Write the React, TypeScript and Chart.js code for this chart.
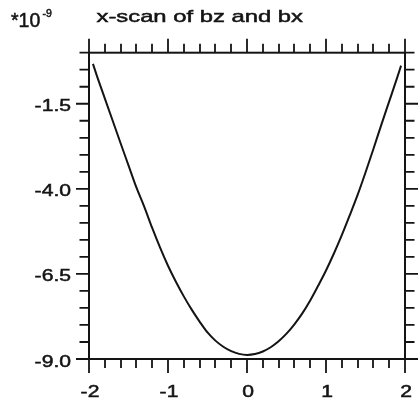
import React, { useEffect, useRef } from "react";
import { Chart, registerables } from "chart.js";

Chart.register(...registerables);

// x-scan positions and field values (units of 1e-9)
const xScan = [
  -1.95, -1.9, -1.8, -1.7, -1.6, -1.5, -1.4, -1.3, -1.2, -1.1, -1.0,
  -0.9, -0.8, -0.7, -0.6, -0.5, -0.4, -0.3, -0.2, -0.1, 0.0,
  0.1, 0.2, 0.3, 0.4, 0.5, 0.6, 0.7, 0.8, 0.9, 1.0,
  1.1, 1.2, 1.3, 1.4, 1.5, 1.6, 1.7, 1.8, 1.9, 1.95,
];
const bzValues = [
  -0.33, -0.68, -1.34, -2.0, -2.66, -3.31, -3.96, -4.53, -5.15, -5.73, -6.26,
  -6.73, -7.16, -7.55, -7.9, -8.22, -8.46, -8.64, -8.77, -8.85, -8.88,
  -8.855, -8.78, -8.655, -8.48, -8.255, -7.98, -7.66, -7.28, -6.85, -6.4,
  -5.9, -5.36, -4.78, -4.18, -3.52, -2.83, -2.12, -1.43, -0.74, -0.38,
];

const xTickLabels = ["-2", "-1", "0", "1", "2"];
const xMajorTicks = [-2, -1, 0, 1, 2];
const xMinorStep = 0.2;
const yTickLabels = ["-1.5", "-4.0", "-6.5", "-9.0"];
const yMajorTicks = [-1.5, -4.0, -6.5, -9.0];
const yMinorStep = 0.5;

const titleText = "x-scan of bz and bx";
const scaleText = "*10";
const scaleExponent = "-9";

const X_MIN = -2;
const X_MAX = 2;
const Y_MIN = -9;
const Y_MAX = 0;

const INK = "#141414";
const FONT = '"Liberation Sans", Arial, Helvetica, sans-serif';

function stretchedText(
  ctx: CanvasRenderingContext2D,
  text: string,
  x: number,
  y: number,
  size: number,
  align: CanvasTextAlign,
  sx: number
) {
  ctx.save();
  ctx.translate(x, y);
  ctx.scale(sx, 1);
  ctx.font = `${size}px ${FONT}`;
  ctx.textAlign = align;
  ctx.textBaseline = "alphabetic";
  ctx.fillStyle = INK;
  ctx.strokeStyle = INK;
  ctx.lineWidth = 0.5;
  ctx.fillText(text, 0, 0);
  ctx.strokeText(text, 0, 0);
  ctx.restore();
}

// Frame with outward ticks on all four sides, labels and header text
const framePlugin = {
  id: "frame",
  afterDatasetsDraw(chart: any) {
    const { ctx, chartArea } = chart;
    const xs = chart.scales.x;
    const ys = chart.scales.y;
    const { left, right, top, bottom } = chartArea;
    const near = (a: number, b: number) => Math.abs(a - b) < 1e-6;

    ctx.save();
    ctx.strokeStyle = INK;
    ctx.lineCap = "butt";

    // box
    ctx.lineWidth = 2;
    ctx.strokeRect(left, top, right - left, bottom - top);

    // x ticks (top and bottom)
    ctx.lineWidth = 1.8;
    const nX = Math.round((X_MAX - X_MIN) / xMinorStep);
    for (let i = 0; i <= nX; i++) {
      const v = X_MIN + i * xMinorStep;
      const px = Math.round(xs.getPixelForValue(v));
      const major = xMajorTicks.some((m) => near(m, v));
      const len = major ? 14 : 9;
      ctx.beginPath();
      ctx.moveTo(px, top);
      ctx.lineTo(px, top - len);
      ctx.moveTo(px, bottom);
      ctx.lineTo(px, bottom + len);
      ctx.stroke();
    }

    // y ticks (left and right)
    const nY = Math.round((Y_MAX - Y_MIN) / yMinorStep);
    for (let i = 0; i <= nY; i++) {
      const v = Y_MIN + i * yMinorStep;
      const py = ys.getPixelForValue(v);
      const major = yMajorTicks.some((m) => near(m, v));
      const len = major ? 13 : 9.5;
      ctx.beginPath();
      ctx.moveTo(left, py);
      ctx.lineTo(left - len, py);
      ctx.moveTo(right, py);
      ctx.lineTo(right + len, py);
      ctx.stroke();
    }
    ctx.restore();

    // tick labels
    xMajorTicks.forEach((v, i) => {
      const px = xs.getPixelForValue(v);
      stretchedText(ctx, xTickLabels[i], px + 1, bottom + 38, 16.5, "center", 1.28);
    });
    yMajorTicks.forEach((v, i) => {
      const py = ys.getPixelForValue(v);
      stretchedText(ctx, yTickLabels[i], left - 18, py + 7.5, 16.5, "right", 1.28);
    });

    // header
    stretchedText(ctx, titleText, 96.5, 22, 17, "left", 1.4);
    stretchedText(ctx, scaleText, 11, 27, 19.5, "left", 1.0);
    stretchedText(ctx, scaleExponent, 42.5, 16.5, 10.5, "left", 1.0);
  },
};

export default function App() {
  const canvasRef = useRef<HTMLCanvasElement | null>(null);

  useEffect(() => {
    const canvas = canvasRef.current;
    if (!canvas) return;
    const chart = new Chart(canvas, {
      type: "line",
      data: {
        datasets: [
          {
            label: "bz",
            data: xScan.map((x, i) => ({ x, y: bzValues[i] })),
            borderColor: INK,
            borderWidth: 2,
            pointRadius: 0,
            cubicInterpolationMode: "monotone",
            fill: false,
          },
        ],
      },
      options: {
        animation: false,
        responsive: false,
        maintainAspectRatio: false,
        events: [],
        layout: {
          padding: { left: 89, right: 14, top: 52.7, bottom: 44 },
        },
        plugins: {
          legend: { display: false },
          tooltip: { enabled: false },
          title: { display: false },
        },
        scales: {
          x: {
            type: "linear",
            min: X_MIN,
            max: X_MAX,
            display: false,
          },
          y: {
            type: "linear",
            min: Y_MIN,
            max: Y_MAX,
            display: false,
          },
        },
      },
      plugins: [framePlugin],
    });
    return () => chart.destroy();
  }, []);

  return (
    <div
      style={{
        position: "fixed",
        left: 0,
        top: 0,
        width: 419,
        height: 403,
        background: "#ffffff",
      }}
    >
      <canvas
        ref={canvasRef}
        width={419}
        height={403}
        style={{ display: "block", width: 419, height: 403 }}
      />
    </div>
  );
}
